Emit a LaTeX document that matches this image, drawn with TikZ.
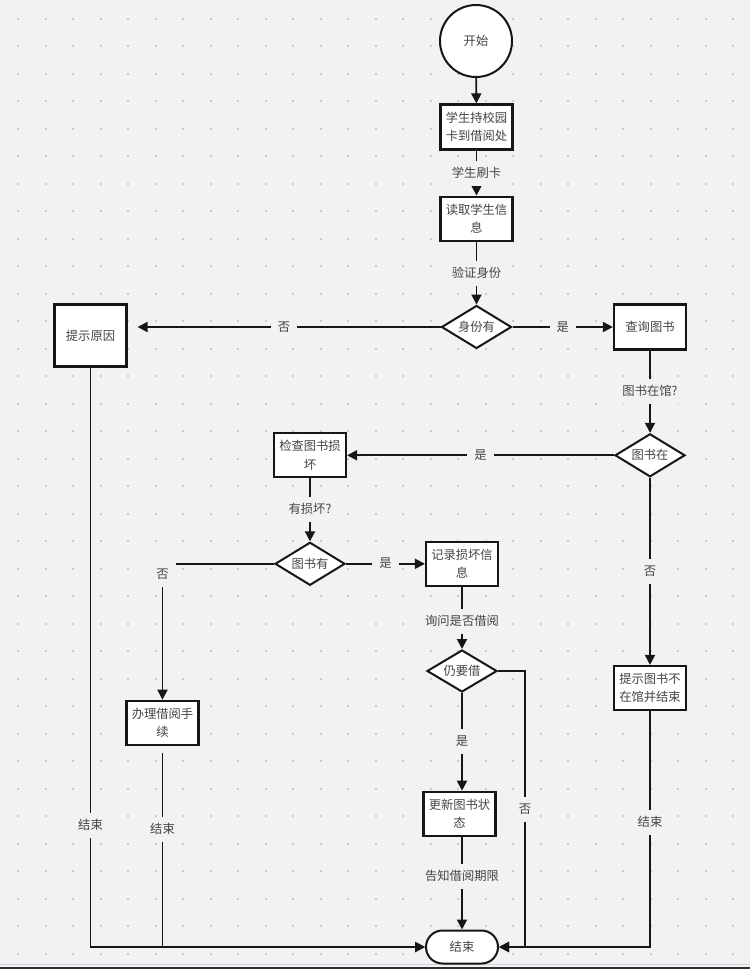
\documentclass[tikz,border=0pt]{standalone}
\usepackage{fontspec}
\setmainfont{Noto Sans CJK SC}
\usetikzlibrary{shapes.geometric,arrows.meta}
\definecolor{bg}{HTML}{F2F2F5}
\definecolor{dotc}{HTML}{CBCBCF}
\definecolor{ln}{HTML}{161616}
\definecolor{tx}{HTML}{444444}
\definecolor{barc}{HTML}{263238}
\tikzset{
  box/.style={rectangle, draw=ln, line width=2.2pt, fill=white, minimum width=72pt, minimum height=44pt,
    inner sep=0pt, align=center, text=tx, font=\fontsize{12.3}{18.4}\selectfont},
  dec/.style={diamond, draw=ln, line width=2pt, fill=white, minimum width=70pt, minimum height=43pt,
    inner sep=0pt, aspect=1.6, text=tx, font=\fontsize{12.3}{18.4}\selectfont},
  term/.style={rectangle, rounded corners=16.5pt, draw=ln, line width=2pt, fill=white, minimum width=72pt,
    minimum height=33pt, inner sep=0pt, text=tx, font=\fontsize{12.3}{18.4}\selectfont},
  startc/.style={circle, draw=ln, line width=2pt, fill=white, minimum size=72pt, inner sep=0pt,
    text=tx, font=\fontsize{12.3}{18.4}\selectfont},
  conn/.style={draw=ln, line width=1.9pt, -{Triangle[length=10pt,width=10pt]}},
  lbl/.style={fill=bg, text=tx, inner xsep=7pt, inner ysep=6.5pt, text height=10pt, text depth=2pt,
    font=\fontsize{12.3}{14}\selectfont},
}
\begin{document}
\begin{tikzpicture}[x=1pt,y=-1pt]
\useasboundingbox (0,0) rectangle (750,969);
\fill[bg] (0,0) rectangle (750,969);
\foreach \i in {0,...,26}{
  \foreach \j in {0,...,34}{
    \fill[dotc] ({18+27.5*\i-1},{18.5+27.5*\j-1}) rectangle ++(2,2);
  }
}
\draw[gray!35, line width=0.8pt] (0,964) -- (750,964);
\fill[barc] (0,966.5) rectangle (750,969);

% nodes
\node[startc] (start) at (476,41) {开始};
\node[box, minimum height=45pt] (b1) at (476.5,127) {学生持校园\\卡到借阅处};
\node[box] (b2) at (476.5,218.7) {读取学生信\\息};
\node[dec] (d1) at (476.5,327) {身份有};
\node[box, minimum height=45pt] (q) at (650,327) {查询图书};
\node[box, minimum height=62pt] (why) at (90.5,335.5) {提示原因};
\node[dec] (d2) at (650,455.3) {图书在};
\node[box] (chk) at (310,455.3) {检查图书损\\坏};
\node[box] (nob) at (650,688) {提示图书不\\在馆并结束};
\node[dec] (d3) at (310,563.8) {图书有};
\node[box] (rec) at (462,563.8) {记录损坏信\\息};
\node[box] (brw) at (162.5,722.8) {办理借阅手\\续};
\node[dec, minimum height=42pt] (d4) at (462,671) {仍要借};
\node[box] (upd) at (459.5,813.8) {更新图书状\\态};
\node[term] (end) at (462,947) {结束};
\coordinate (c4) at (525,671);

% connectors
\draw[conn] (start) -- (b1);
\draw[conn] (b1) -- node[lbl]{学生刷卡} (b2);
\draw[conn] (b2) -- node[lbl]{验证身份} (d1);
\draw[conn] (d1) -- node[lbl]{是} (q);
\draw[conn, shorten >=10pt] (d1.west) -- node[lbl]{否} (d1.west -| why.east);
\draw[conn] (q) -- node[lbl]{图书在馆?} (d2);
\draw[conn] (d2) -- node[lbl]{是} (chk);
\draw[conn] (d2) -- node[lbl]{否} (nob);
\draw[conn] (chk) -- node[lbl]{有损坏?} (d3);
\draw[conn] (d3) -- node[lbl]{是} (rec);
\draw[conn] (d3.west) -| node[lbl, pos=0.54]{否} (brw.north);
\draw[conn] (rec) -- node[lbl, pos=0.56]{询问是否借阅} (d4);
\draw[conn] (d4.south) -- node[lbl]{是} (d4.south |- upd.north);
\draw[conn] (upd.south -| end.north) -- node[lbl, pos=0.43]{告知借阅期限} (end.north);
\draw[conn] (d4.east) -- (c4) |- node[lbl, pos=0.25]{否} (end.east);
\draw[conn] (nob.south) |- node[lbl, pos=0.236]{结束} (end.east);
\draw[conn] (why.south) |- node[lbl, pos=0.395]{结束} (end.west);
\draw[conn, shorten <=7pt] (brw.south) |- node[lbl, pos=0.208]{结束} (end.west);
\end{tikzpicture}
\end{document}
